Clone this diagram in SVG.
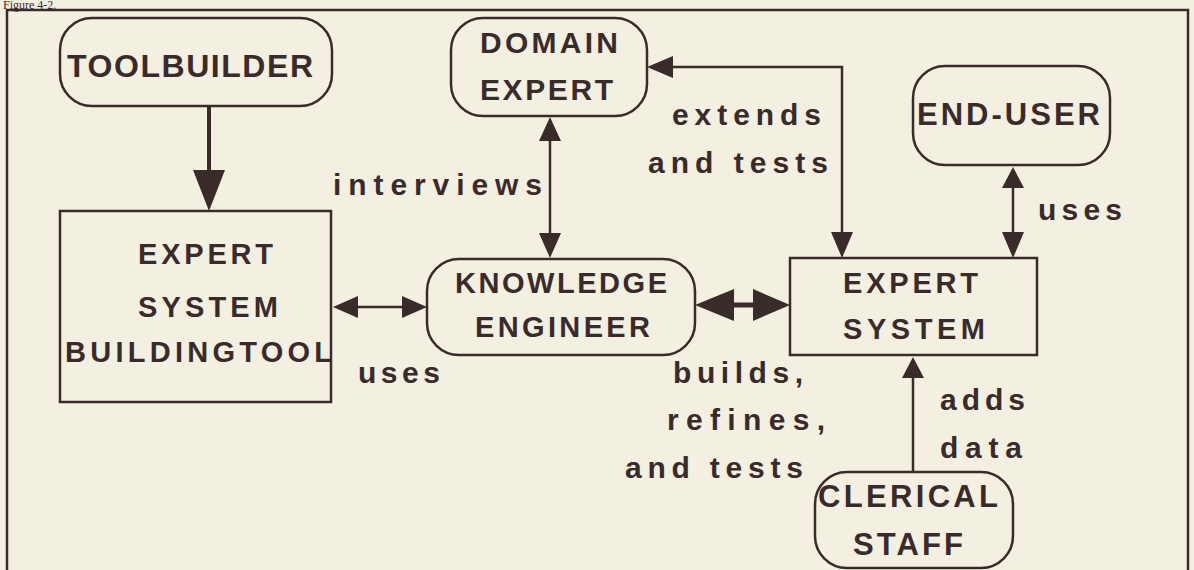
<svg xmlns="http://www.w3.org/2000/svg" width="1194" height="570" viewBox="0 0 1194 570">
<style>
.bg{fill:#f3f0e2}
.box{fill:none;stroke:#3a2b2b;stroke-width:2.5}
.ln{fill:none;stroke:#3a2b2b;stroke-width:2.5}
.thick{fill:none;stroke:#3a2b2b;stroke-width:5}
.head{fill:#3a2b2b;stroke:none}
.cap{font-family:"Liberation Sans",Arial,sans-serif;font-weight:bold;fill:#3a2b2b}
.lab{font-family:"Liberation Sans",Arial,sans-serif;font-weight:bold;font-size:30px;fill:#3a2b2b}
.fig{font-family:"Liberation Serif","Times New Roman",serif;font-size:12px;fill:#3a2b2b}
</style>
<rect class="bg" x="0" y="0" width="1194" height="570"/>
<text class="fig" x="3" y="9">Figure 4-2.</text>
<path class="box" d="M7,575 V10 H1188 V575"/>

<g id="connectors">
  <line class="thick" x1="209" y1="106" x2="209" y2="175" style="stroke-width:4"/>
  <polygon class="head" points="193,170 225,170 209,211"/>
  <line class="ln" x1="345" y1="307" x2="415" y2="307"/>
  <polygon class="head" points="333,307 358,296 358,318"/>
  <polygon class="head" points="427,307 402,296 402,318"/>
  <line class="ln" x1="550" y1="130" x2="550" y2="245"/>
  <polygon class="head" points="550,117 539,141 561,141"/>
  <polygon class="head" points="550,258 539,233 561,233"/>
  <path class="ln" d="M660,67 H842 V245"/>
  <polygon class="head" points="647,67 673,56 673,78"/>
  <polygon class="head" points="842,258 831,232 853,232"/>
  <line class="thick" x1="715" y1="305" x2="775" y2="305"/>
  <polygon class="head" points="695,305 734,289 734,321"/>
  <polygon class="head" points="790,305 753,289 753,321"/>
  <line class="ln" x1="1013" y1="178" x2="1013" y2="245"/>
  <polygon class="head" points="1013,167 1002,188 1024,188"/>
  <polygon class="head" points="1013,258 1002,232 1024,232"/>
  <line class="ln" x1="913" y1="472" x2="913" y2="370"/>
  <polygon class="head" points="913,357 902,378 924,378"/>
</g>

<g id="labels">
  <text class="lab" x="333" y="195" textLength="209" lengthAdjust="spacing">interviews</text>
  <text class="lab" x="672" y="125" textLength="149" lengthAdjust="spacing">extends</text>
  <text class="lab" x="648" y="173" textLength="180" lengthAdjust="spacing">and tests</text>
  <text class="lab" x="358" y="383" textLength="82" lengthAdjust="spacing">uses</text>
  <text class="lab" x="1038" y="220" textLength="84" lengthAdjust="spacing">uses</text>
  <text class="lab" x="673" y="383" textLength="130" lengthAdjust="spacing">builds,</text>
  <text class="lab" x="667" y="430" textLength="158" lengthAdjust="spacing">refines,</text>
  <text class="lab" x="625" y="478" textLength="178" lengthAdjust="spacing">and tests</text>
  <text class="lab" x="940" y="410" textLength="85" lengthAdjust="spacing">adds</text>
  <text class="lab" x="940" y="458" textLength="82" lengthAdjust="spacing">data</text>
</g>

<g id="toolbuilder">
  <rect class="box" x="60" y="18" width="272" height="88" rx="32"/>
  <text class="cap" x="67" y="77" font-size="32" textLength="246" lengthAdjust="spacing">TOOLBUILDER</text>
</g>
<g id="domain-expert">
  <rect class="box" x="451" y="18" width="196" height="98" rx="32"/>
  <text class="cap" x="480" y="53" font-size="30" textLength="138" lengthAdjust="spacing">DOMAIN</text>
  <text class="cap" x="480" y="100" font-size="30" textLength="133" lengthAdjust="spacing">EXPERT</text>
</g>
<g id="end-user">
  <rect class="box" x="913" y="66" width="197" height="99" rx="32"/>
  <text class="cap" x="917" y="125" font-size="31" textLength="183" lengthAdjust="spacing">END-USER</text>
</g>
<g id="es-building-tool">
  <rect class="box" x="60" y="211" width="271" height="191"/>
  <text class="cap" x="138" y="264" font-size="29" textLength="135" lengthAdjust="spacing">EXPERT</text>
  <text class="cap" x="138" y="317" font-size="29" textLength="140" lengthAdjust="spacing">SYSTEM</text>
  <text class="cap" x="65" y="362" font-size="29" textLength="267" lengthAdjust="spacing">BUILDINGTOOL</text>
</g>
<g id="knowledge-engineer">
  <rect class="box" x="427" y="259" width="268" height="96" rx="32"/>
  <text class="cap" x="455" y="293" font-size="29" textLength="212" lengthAdjust="spacing">KNOWLEDGE</text>
  <text class="cap" x="475" y="337" font-size="29" textLength="175" lengthAdjust="spacing">ENGINEER</text>
</g>
<g id="expert-system">
  <rect class="box" x="790" y="258" width="247" height="97"/>
  <text class="cap" x="843" y="293" font-size="29" textLength="135" lengthAdjust="spacing">EXPERT</text>
  <text class="cap" x="843" y="339" font-size="29" textLength="142" lengthAdjust="spacing">SYSTEM</text>
</g>
<g id="clerical-staff">
  <rect class="box" x="815" y="472" width="198" height="96" rx="32"/>
  <text class="cap" x="818" y="507" font-size="31" textLength="180" lengthAdjust="spacing">CLERICAL</text>
  <text class="cap" x="853" y="555" font-size="31" textLength="110" lengthAdjust="spacing">STAFF</text>
</g>
</svg>
